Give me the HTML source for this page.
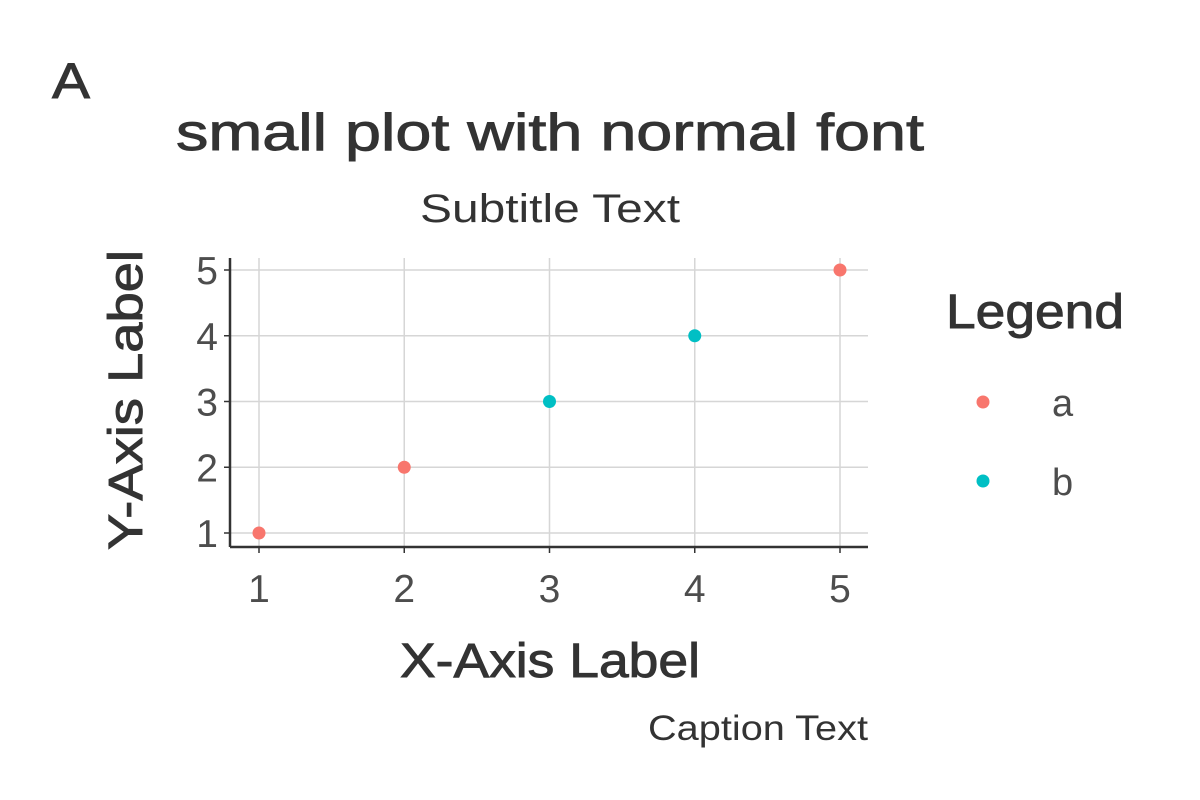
<!DOCTYPE html>
<html><head><meta charset="utf-8"><style>
body{margin:0;background:#fff;}
svg{display:block;font-family:"Liberation Sans",sans-serif;}
.med{stroke:#333;stroke-width:0.9;}
</style></head><body>
<svg width="1200" height="800" viewBox="0 0 1200 800">
<rect width="1200" height="800" fill="#fff"/>
<text x="52" y="98" font-size="50" class="med" fill="#333" textLength="38" lengthAdjust="spacingAndGlyphs">A</text>
<text x="176" y="150" font-size="52" class="med" fill="#333" textLength="748" lengthAdjust="spacingAndGlyphs">small plot with normal font</text>
<text x="420" y="222" font-size="40" fill="#333" textLength="260" lengthAdjust="spacingAndGlyphs">Subtitle Text</text>
<g id="grid"></g>
<g id="axes"></g>
<g id="points"></g>
<text x="400" y="677" font-size="48" class="med" fill="#333" textLength="300" lengthAdjust="spacingAndGlyphs">X-Axis Label</text>
<text transform="translate(142,550) rotate(-90)" font-size="48" class="med" fill="#333" textLength="300" lengthAdjust="spacingAndGlyphs">Y-Axis Label</text>
<text x="648" y="740" font-size="35" fill="#333" textLength="220" lengthAdjust="spacingAndGlyphs">Caption Text</text>
<text x="946" y="328" font-size="48" class="med" fill="#333" textLength="178" lengthAdjust="spacingAndGlyphs">Legend</text>
<g><circle cx="983" cy="402" r="6.5" fill="#F8766D"/><text x="1052" y="416" font-size="38" fill="#4d4d4d">a</text></g>
<g><circle cx="983" cy="481" r="6.5" fill="#00BFC4"/><text x="1052" y="495" font-size="38" fill="#4d4d4d">b</text></g>
</svg>
<script>
const xs=[1,2,3,4,5];
const ys=[1,2,3,4,5];
const groups=['a','a','b','b','a'];
const xTicks=[1,2,3,4,5];
const yTicks=[1,2,3,4,5];
const colors={a:'#F8766D',b:'#00BFC4'};
const NS='http://www.w3.org/2000/svg';
const L=230,R=868,T=258,B=547;
const sx=v=>259+(v-1)*(840-259)/4;
const sy=v=>533-(v-1)*(533-270)/4;
function mk(tag,attrs,parent){const e=document.createElementNS(NS,tag);for(const k in attrs)e.setAttribute(k,attrs[k]);parent.appendChild(e);return e;}
const grid=document.getElementById('grid'),axes=document.getElementById('axes'),pts=document.getElementById('points');
xTicks.forEach(t=>{const l=mk('line',{x1:sx(t),x2:sx(t),y1:T,y2:B,stroke:'#d6d6d6','stroke-width':1.5},grid);


const tk=mk('line',{x1:sx(t),x2:sx(t),y1:B,y2:B+6,stroke:'#333','stroke-width':1.5},axes);


const tx=mk('text',{x:sx(t),y:602,'font-size':39,fill:'#4d4d4d','text-anchor':'middle'},axes);tx.textContent=t;

});
yTicks.forEach(t=>{const l=mk('line',{x1:L,x2:R,y1:sy(t),y2:sy(t),stroke:'#d6d6d6','stroke-width':1.5},grid);


const tk=mk('line',{x1:L-6,x2:L,y1:sy(t),y2:sy(t),stroke:'#333','stroke-width':1.5},axes);


const tx=mk('text',{x:L-12,y:sy(t)+14,'font-size':39,fill:'#4d4d4d','text-anchor':'end'},axes);tx.textContent=t;

});
const ax=mk('line',{x1:L,x2:L,y1:T,y2:B,stroke:'#333','stroke-width':2.5},axes);


const bx=mk('line',{x1:L,x2:R,y1:B,y2:B,stroke:'#333','stroke-width':2.5},axes);


xs.forEach((x,i)=>{const c=mk('circle',{cx:sx(x),cy:sy(ys[i]),r:6.5,fill:colors[groups[i]]},pts);

});
</script>
</body></html>
